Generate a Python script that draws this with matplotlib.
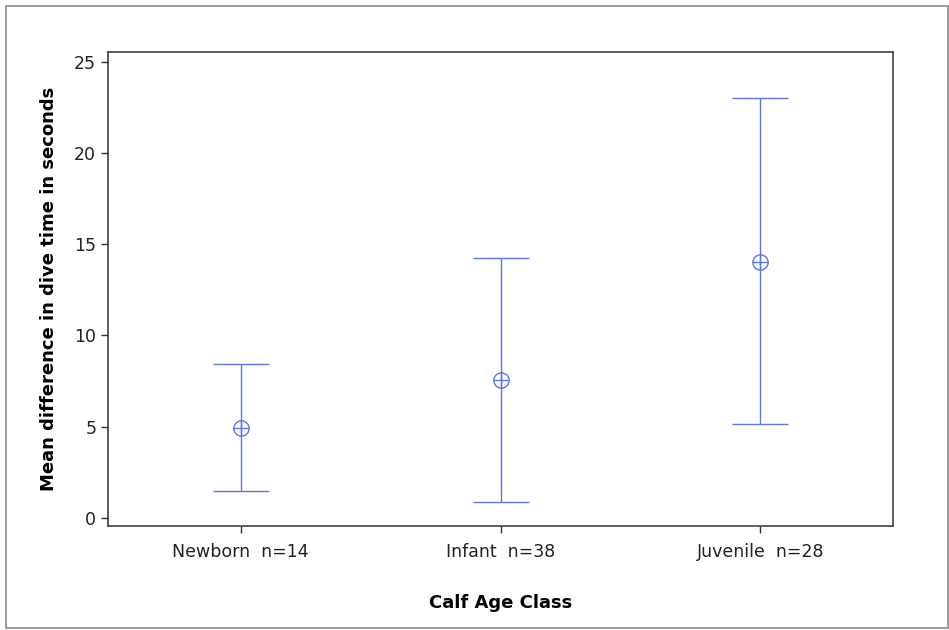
import matplotlib
matplotlib.use("Agg")
import matplotlib.pyplot as plt
from matplotlib.patches import Rectangle

categories = ["Newborn  n=14", "Infant  n=38", "Juvenile  n=28"]
means = [4.95, 7.56, 14.04]
upper = [8.44, 14.26, 23.03]
lower = [1.48, 0.89, 5.17]
yticks = [0, 5, 10, 15, 20, 25]

blue = "#5a78e6"
fig = plt.figure(figsize=(9.49, 6.3), dpi=100)
fig.patch.set_facecolor("white")
fig.add_artist(Rectangle((6/949, 2/630), 942/949, 622/630, transform=fig.transFigure,
                         fill=False, edgecolor="#8a8a8a", linewidth=1.2))

ax = fig.add_axes([108/949, 104/630, 785/949, 474/630])
x = list(range(len(categories)))
yerr_low = [m - l for m, l in zip(means, lower)]
yerr_up = [u - m for u, m in zip(upper, means)]
ax.errorbar(x, means, yerr=[yerr_low, yerr_up], fmt="none", ecolor=blue,
            elinewidth=1.0, capsize=20, capthick=1.0)
ax.plot(x, means, linestyle="none", marker="o", markersize=11, markerfacecolor="none",
        markeredgecolor=blue, markeredgewidth=1.0)
ax.plot(x, means, linestyle="none", marker="+", markersize=11,
        markeredgecolor=blue, markeredgewidth=1.0)

ax.set_xlim(-0.51, 2.51)
ax.set_ylim(-0.44, 25.53)
ax.set_xticks(x)
ax.set_xticklabels(categories)
ax.set_yticks(yticks)
ax.tick_params(axis="both", direction="out", length=5, width=1, color="#333333",
               labelsize=12.5, labelcolor="#222222")
ax.tick_params(axis="x", pad=7)
for s in ax.spines.values():
    s.set_color("#333333")
    s.set_linewidth(1.1)
ax.set_ylabel("Mean difference in dive time in seconds", fontsize=13, fontweight="bold",
              labelpad=12)
ax.set_xlabel("Calf Age Class", fontsize=13, fontweight="bold", labelpad=24)

fig.savefig("out.png", dpi=100)
